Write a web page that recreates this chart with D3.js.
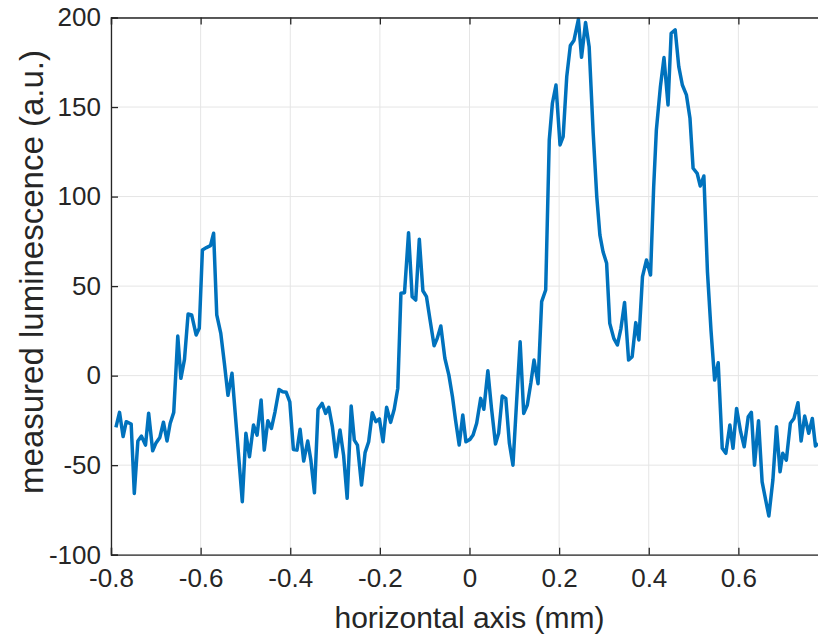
<!DOCTYPE html>
<html><head><meta charset="utf-8">
<script src="https://cdn.jsdelivr.net/npm/d3@7"></script>
<style>body{margin:0;background:#fff}svg{display:block}</style>
</head><body>
<svg id="chart" width="818" height="639"></svg>
<script>
const xValues = [-0.789,-0.781,-0.773,-0.766,-0.755,-0.748,-0.740,-0.732,-0.723,-0.716,-0.707,-0.700,-0.691,-0.683,-0.675,-0.668,-0.660,-0.651,-0.644,-0.636,-0.628,-0.620,-0.610,-0.603,-0.596,-0.587,-0.578,-0.571,-0.564,-0.555,-0.547,-0.539,-0.530,-0.518,-0.507,-0.499,-0.491,-0.482,-0.474,-0.465,-0.458,-0.450,-0.442,-0.434,-0.425,-0.417,-0.409,-0.401,-0.393,-0.385,-0.378,-0.370,-0.361,-0.354,-0.346,-0.338,-0.329,-0.321,-0.314,-0.306,-0.298,-0.289,-0.281,-0.273,-0.264,-0.257,-0.250,-0.241,-0.233,-0.225,-0.217,-0.209,-0.201,-0.193,-0.185,-0.176,-0.168,-0.160,-0.153,-0.145,-0.136,-0.128,-0.120,-0.112,-0.104,-0.096,-0.088,-0.079,-0.072,-0.064,-0.055,-0.046,-0.038,-0.031,-0.023,-0.015,-0.008,0.001,0.008,0.016,0.025,0.032,0.041,0.049,0.058,0.065,0.073,0.081,0.089,0.097,0.105,0.113,0.121,0.129,0.137,0.144,0.153,0.161,0.170,0.178,0.185,0.193,0.202,0.209,0.217,0.225,0.233,0.243,0.250,0.259,0.267,0.276,0.284,0.291,0.298,0.306,0.313,0.322,0.330,0.338,0.346,0.355,0.363,0.371,0.378,0.386,0.395,0.404,0.411,0.417,0.426,0.434,0.443,0.450,0.459,0.467,0.475,0.484,0.492,0.499,0.508,0.515,0.523,0.531,0.539,0.547,0.555,0.564,0.572,0.581,0.588,0.596,0.605,0.613,0.622,0.629,0.636,0.645,0.653,0.661,0.668,0.677,0.685,0.693,0.699,0.707,0.716,0.724,0.733,0.740,0.748,0.757,0.765,0.772,0.778];
const luminescence = [-28.9,-20.5,-34,-25.7,-27,-65.8,-36.5,-33.8,-38.8,-21,-42,-37.8,-34.5,-26,-36.5,-26.7,-20.5,22.1,-1.5,9.1,34.4,33.9,22.7,26.4,70.2,71.5,72.6,79.5,33.9,23.6,6.9,-11,1.3,-36,-70.4,-32.2,-45.3,-27.6,-33.2,-13.6,-41.6,-25.2,-29.5,-20.2,-7.7,-9,-9.3,-14.6,-41.2,-41.6,-30,-47.7,-36.5,-47.2,-65.4,-18.8,-15.5,-21.1,-17.7,-28.5,-45.3,-30.4,-44.4,-68.5,-17,-36,-38.8,-61.1,-43,-36.9,-20.7,-25.7,-24.2,-36.9,-17.7,-26.1,-18.8,-7,46,46.3,79.8,44.1,42.2,76.2,47.4,44.1,31.1,16.7,20.8,27.7,9.7,0.3,-11.8,-25,-38.8,-22,-36.9,-35.6,-33.2,-26.6,-12.7,-18.8,2.7,-18,-38.2,-32.2,-11.4,-12.7,-37.8,-50,-15,18.9,-21.1,-16.4,-4,8.7,-4.5,41.3,47.8,131.6,152.1,162.3,128.8,133.5,167,184.3,187.1,199,177.8,197.2,183.7,135.4,100,78.5,69.2,62.7,29.2,20.8,17.1,26.4,40.9,8.7,10.6,29.6,19.9,55.3,64.6,56.2,105.5,137.2,161.4,177.6,151.2,191.2,193.1,172.6,162.3,156.8,143.7,115.8,113,105.9,111.5,58,25,-2.5,7.2,-40.6,-43.4,-27.6,-40.6,-18.3,-31.3,-39.7,-23,-20.5,-50,-25.2,-59.3,-69.5,-78.4,-58.3,-28.5,-53.7,-43.4,-47.2,-26.6,-23.9,-15.1,-36.5,-22.6,-32.2,-23.9,-39.3,-38];
const xTicks = [-0.8,-0.6,-0.4,-0.2,0,0.2,0.4,0.6];
const yTicks = [-100,-50,0,50,100,150,200];
const xLabel = "horizontal axis (mm)";
const yLabel = "measured luminescence (a.u.)";

const svg = d3.select("#chart");
const L = 111, R = 828, T = 17.5, B = 554.7;
const x = d3.scaleLinear().domain([-0.8, 0.8]).range([L, R]);
const y = d3.scaleLinear().domain([-100, 200]).range([B, T]);
const axisCol = "#262626", gridCol = "#e5e5e5";
const font = "'Liberation Sans', Arial, Helvetica, sans-serif";

// grid
svg.append("g").selectAll("line").data(xTicks).join("line")
  .attr("x1", d => x(d)).attr("x2", d => x(d)).attr("y1", T).attr("y2", B)
  .attr("stroke", gridCol).attr("stroke-width", 1);
svg.append("g").selectAll("line").data(yTicks).join("line")
  .attr("x1", L).attr("x2", R).attr("y1", d => y(d)).attr("y2", d => y(d))
  .attr("stroke", gridCol).attr("stroke-width", 1);

// data line
const line = d3.line().x((d, i) => x(xValues[i])).y(d => y(d));
svg.append("path").datum(luminescence)
  .attr("d", line).attr("fill", "none")
  .attr("stroke", "#0072BD").attr("stroke-width", 3.5)
  .attr("stroke-linejoin", "round");

// axes
const fmt = d => d === 0 ? "0" : String(d);
const xAxisB = d3.axisBottom(x).tickValues(xTicks).tickSize(-7).tickPadding(14).tickFormat(fmt);
const xAxisT = d3.axisTop(x).tickValues(xTicks).tickSize(-7).tickFormat("");
const yAxisL = d3.axisLeft(y).tickValues(yTicks).tickSize(-7).tickPadding(10).tickFormat(fmt);

function style(g) {
  g.select(".domain").attr("stroke", axisCol).attr("stroke-width", 1.3);
  g.selectAll(".tick line").attr("stroke", axisCol).attr("stroke-width", 1.3);
  g.selectAll(".tick text").attr("fill", axisCol).style("font-family", font).style("font-size", "26px");
}
svg.append("g").attr("transform", `translate(0,${B})`).call(xAxisB).call(style);
svg.append("g").attr("transform", `translate(0,${T})`).call(xAxisT).call(style);
svg.append("g").attr("transform", `translate(${L},0)`).call(yAxisL).call(style);

// labels
svg.append("text").attr("x", (L + R) / 2).attr("y", 628).attr("text-anchor", "middle")
  .attr("fill", axisCol).style("font-family", font).style("font-size", "30px").text(xLabel);
svg.append("text").attr("transform", `translate(43,272) rotate(-90)`)
  .attr("text-anchor", "middle").attr("fill", axisCol)
  .style("font-family", font).style("font-size", "33px").text(yLabel);
</script>
</body></html>
